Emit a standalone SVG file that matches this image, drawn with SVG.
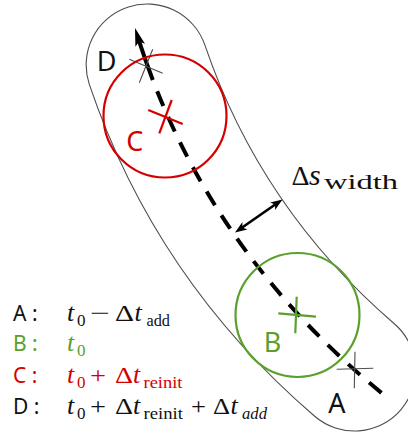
<svg xmlns="http://www.w3.org/2000/svg" width="408" height="433" viewBox="0 0 408 433">
<style>
.lbl{font-family:"Noto Sans","DejaVu Sans",sans-serif;font-size:27px;text-anchor:middle}
.leg{font-family:"Noto Sans","DejaVu Sans",sans-serif;font-size:21px}
.m{font-family:"Liberation Serif",serif;font-size:24px}
.mi{font-family:"Liberation Serif",serif;font-size:26px;font-style:italic}
.s{font-family:"Liberation Serif",serif;font-size:17px}
.si{font-family:"Liberation Serif",serif;font-size:17px;font-style:italic}
.thin{stroke:#4d4d4d;stroke-width:1.1;fill:none}
.red{fill:#d40000}
.grn{fill:#5aa02c}
.blk{fill:#111}
</style>
<rect width="408" height="433" fill="#fff"/>
<g id="tube">
<path d="M147.2,65 Q208,244 354.5,370" fill="none" stroke="#4d4d4d" stroke-width="123.2" stroke-linecap="round"/>
<path d="M147.2,65 Q208,244 354.5,370" fill="none" stroke="#fff" stroke-width="121" stroke-linecap="round"/>
</g>
<g id="connectors">
<path d="M139.1,41.2 Q145.49,60.9 152.8,80" fill="none" stroke="#000" stroke-width="4"/>
<path d="M152.8,80 Q224.4,267 389,399" fill="none" stroke="#000" stroke-width="4" stroke-dasharray="16 12" stroke-dashoffset="16"/>
<polygon points="135,28 145,43.8 139.1,41.4 135.4,46.7" fill="#000"/>
<line x1="240" y1="229" x2="277" y2="203.3" stroke="#000" stroke-width="2.6"/>
<polygon points="282.5,199.5 275.1,209.9 275.1,204.6 270.1,202.5" fill="#000"/>
<polygon points="235,232.5 247.4,229.5 242.4,227.4 242.4,222.1" fill="#000"/>
</g>
<g id="nodeD">
<line class="thin" x1="129.3" y1="59.3" x2="162.7" y2="73.3"/>
<line class="thin" x1="139.3" y1="82.7" x2="152.7" y2="49.3"/>
<text class="lbl blk" x="106.5" y="70.7">D</text>
</g>
<g id="nodeC">
<circle cx="165" cy="116" r="61.5" fill="none" stroke="#d40000" stroke-width="2.2"/>
<line x1="148.3" y1="110" x2="182.7" y2="124" stroke="#d40000" stroke-width="2.2"/>
<line x1="159.3" y1="133.3" x2="171.7" y2="100" stroke="#d40000" stroke-width="2.2"/>
<text class="lbl red" x="134.7" y="151">C</text>
</g>
<g id="nodeB">
<circle cx="297.5" cy="315" r="62" fill="none" stroke="#5aa02c" stroke-width="2.2"/>
<line x1="278.3" y1="313.3" x2="316" y2="316.7" stroke="#5aa02c" stroke-width="2.2"/>
<line x1="296.7" y1="296.7" x2="295.3" y2="333.3" stroke="#5aa02c" stroke-width="2.2"/>
<text class="lbl grn" x="272.5" y="351.5">B</text>
</g>
<g id="nodeA">
<line class="thin" x1="336.7" y1="369.3" x2="373.3" y2="368.3"/>
<line class="thin" x1="355" y1="351.7" x2="354.3" y2="388.3"/>
<text class="lbl blk" x="337" y="412.7">A</text>
</g>
<g id="width-label">
<text class="m blk" x="291.5" y="185" style="font-size:28px">Δ</text>
<text class="mi blk" x="309" y="185" style="font-size:30px">s</text>
<text class="s blk" x="324" y="188.5" style="font-size:20px" textLength="74" lengthAdjust="spacingAndGlyphs">width</text>
</g>
<g id="legend">
<text class="leg blk" x="13" y="321">A :</text>
<text class="mi blk" x="67" y="321">t</text>
<text class="s blk" x="77" y="325.5">0</text>
<text class="m blk" x="90" y="321" textLength="20" lengthAdjust="spacingAndGlyphs">−</text>
<text class="m blk" x="115" y="321" textLength="19" lengthAdjust="spacingAndGlyphs">Δ</text>
<text class="mi blk" x="134.5" y="321">t</text>
<text class="s blk" x="146.5" y="325.5" textLength="23.5" lengthAdjust="spacingAndGlyphs">add</text>

<text class="leg grn" x="13" y="351">B :</text>
<text class="mi grn" x="67" y="351">t</text>
<text class="s grn" x="77" y="355.5">0</text>

<text class="leg red" x="13" y="383">C :</text>
<text class="mi red" x="67" y="383">t</text>
<text class="s red" x="77" y="387.5">0</text>
<text class="m red" x="90" y="383" textLength="16" lengthAdjust="spacingAndGlyphs">+</text>
<text class="m red" x="115" y="383" textLength="18" lengthAdjust="spacingAndGlyphs">Δ</text>
<text class="mi red" x="133" y="383">t</text>
<text class="s red" x="143.5" y="387.5" textLength="39" lengthAdjust="spacingAndGlyphs">reinit</text>

<text class="leg blk" x="13" y="414">D :</text>
<text class="mi blk" x="67" y="414">t</text>
<text class="s blk" x="77" y="418.5">0</text>
<text class="m blk" x="90" y="414" textLength="16" lengthAdjust="spacingAndGlyphs">+</text>
<text class="m blk" x="115" y="414" textLength="18" lengthAdjust="spacingAndGlyphs">Δ</text>
<text class="mi blk" x="133" y="414">t</text>
<text class="s blk" x="143.5" y="418.5" textLength="39.5" lengthAdjust="spacingAndGlyphs">reinit</text>
<text class="m blk" x="191" y="414" textLength="15" lengthAdjust="spacingAndGlyphs">+</text>
<text class="m blk" x="213" y="414" textLength="17" lengthAdjust="spacingAndGlyphs">Δ</text>
<text class="mi blk" x="230.5" y="414">t</text>
<text class="si blk" x="242" y="418.5" textLength="25" lengthAdjust="spacingAndGlyphs">add</text>
</g>
</svg>
